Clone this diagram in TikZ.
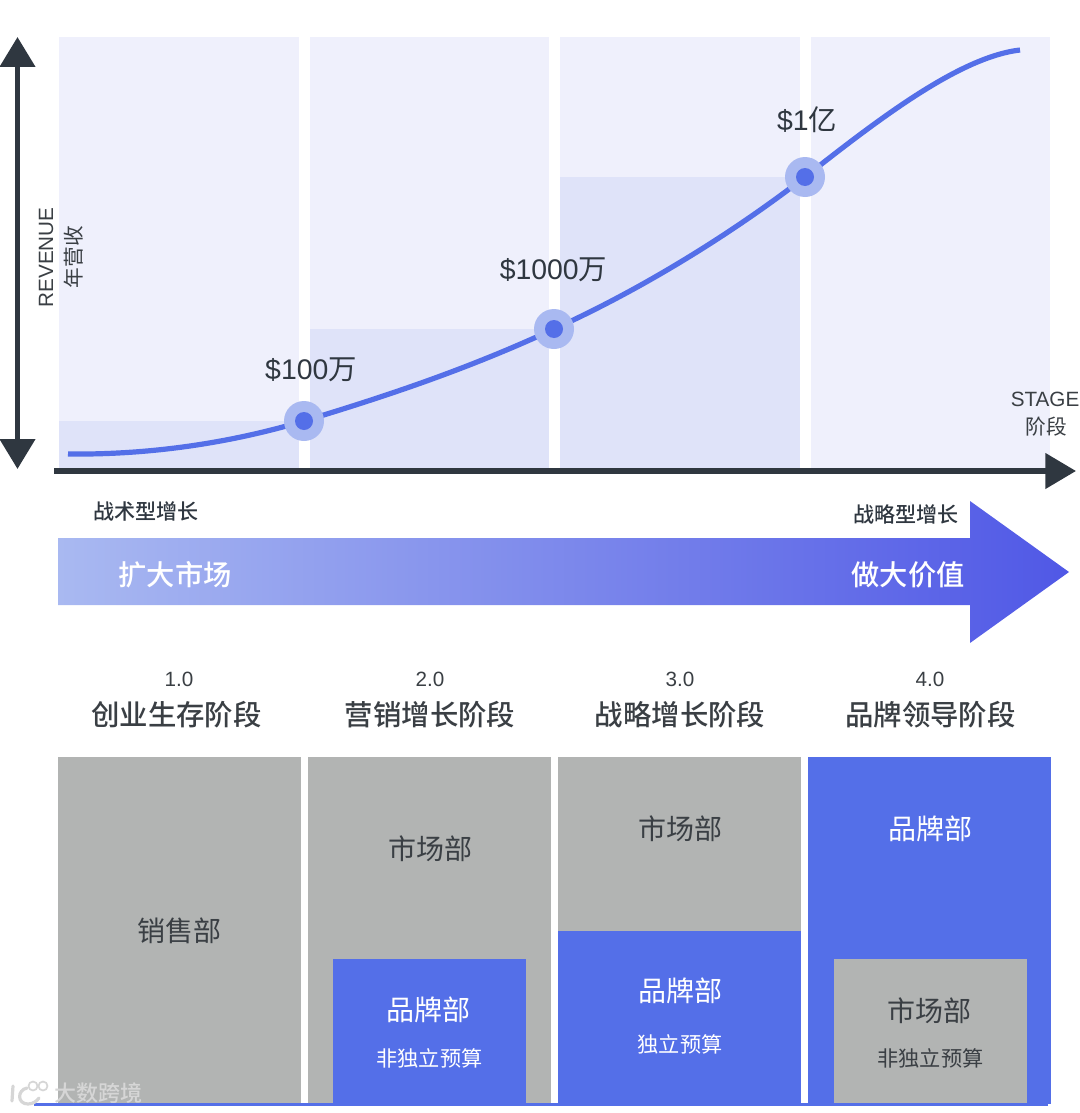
\documentclass[tikz,border=0pt]{standalone}
\usepackage{fontspec}
\setmainfont{Noto Sans CJK SC}
\newfontfamily\medf{Noto Sans CJK SC Medium}
\newfontfamily\latinf{Liberation Sans}
\usetikzlibrary{arrows.meta}
\definecolor{panel}{HTML}{EFF0FC}
\definecolor{inner}{HTML}{DFE3F9}
\definecolor{ink}{HTML}{2F3740}
\definecolor{blu}{HTML}{546FE8}
\definecolor{halo}{HTML}{A9B9F1}
\definecolor{gry}{HTML}{B2B4B3}
\definecolor{txt}{HTML}{3A3F44}
\definecolor{arrowend}{HTML}{5058E6}
\definecolor{wmark}{HTML}{D6D6D6}
\tikzset{
  x=0.75pt,y=-0.75pt,
  panelbox/.style={fill=panel,draw=none},
  innerbox/.style={fill=inner,draw=none},
  graybox/.style={fill=gry,draw=none},
  bluebox/.style={fill=blu,draw=none},
  lab/.style={inner sep=0pt,text=#1,font=\fontsize{21}{23}\selectfont},
  lab/.default=txt,
  sublab/.style={inner sep=0pt,text=#1,font=\fontsize{15.9}{17}\selectfont},
  sublab/.default=txt,
  money/.style={inner sep=0pt,text=ink,font=\fontsize{21.3}{23}\selectfont},
  small/.style={inner sep=0pt,text=ink,font=\medf\fontsize{15.8}{17}\selectfont},
  head/.style={inner sep=0pt,text=txt,font=\medf\fontsize{21.3}{23}\selectfont},
  num/.style={inner sep=0pt,text=txt,font=\latinf\fontsize{15.5}{17}\selectfont},
  whitehead/.style={inner sep=0pt,text=white,font=\medf\fontsize{21.2}{23}\selectfont},
  axis/.style={draw=ink,line width=4.1pt},
  curve/.style={draw=blu,line width=3.9pt},
  logo/.style={draw=wmark,line cap=round},
}
\begin{document}
\begin{tikzpicture}
\useasboundingbox (0,0) rectangle (1080,1113);
% panels
\fill[panelbox] (59,37) rectangle (299,468);
\fill[panelbox] (310,37) rectangle (549,468);
\fill[panelbox] (560,37) rectangle (800,468);
\fill[panelbox] (811,37) rectangle (1050,468);
\fill[innerbox] (59,421) rectangle (299,468);
\fill[innerbox] (310,329) rectangle (549,468);
\fill[innerbox] (560,177) rectangle (800,468);
% curve
\draw[curve] (68,454) .. controls (150,455) and (230,443) .. (304,421)
  .. controls (390,395) and (470,368) .. (554,329)
  .. controls (640,290) and (730,235) .. (805,177)
  .. controls (880,118) and (960,57) .. (1020,50);
% points
\node[circle,fill=halo,minimum size=30pt,inner sep=0pt] (p1h) at (304,421) {};
\node[circle,fill=blu,minimum size=13.5pt,inner sep=0pt] (p1) at (304,421) {};
\node[circle,fill=halo,minimum size=30pt,inner sep=0pt] (p2h) at (554,329) {};
\node[circle,fill=blu,minimum size=13.5pt,inner sep=0pt] (p2) at (554,329) {};
\node[circle,fill=halo,minimum size=30pt,inner sep=0pt] (p3h) at (805,177) {};
\node[circle,fill=blu,minimum size=13.5pt,inner sep=0pt] (p3) at (805,177) {};
\node[money] (m1) at (311,370) {{\latinf\$100}万};
\node[money] (m2) at (553.5,270) {{\latinf\$1000}万};
\node[money] (m3) at (807,120) {{\latinf\$1}亿};
% axes
\coordinate (ytop) at (17.5,37);
\coordinate (ybot) at (17.5,469);
\coordinate (xl) at (54,471);
\coordinate (xr) at (1076,471);
\draw[axis,{Triangle[length=22.5pt,width=26pt]}-{Triangle[length=22.5pt,width=26pt]}] (ytop) -- (ybot);
\draw[axis,-{Triangle[length=23pt,width=26pt]}] (xl) -- (xr);
\node[inner sep=0pt,rotate=90,text=txt,font=\latinf\fontsize{15.5}{17}\selectfont] (rev) at (46,257.5) {REVENUE};
\node[inner sep=0pt,rotate=90,text=txt,font=\fontsize{15.5}{17}\selectfont] (rev2) at (74,257) {年营收};
\node[inner sep=0pt,text=txt,font=\latinf\fontsize{15.5}{17}\selectfont] (st) at (1045,399) {STAGE};
\node[inner sep=0pt,text=txt,font=\fontsize{15.5}{17}\selectfont] (st2) at (1046,427) {阶段};
% big arrow
\shade[left color=halo,right color=arrowend,shading angle=90,left color=halo,right color=arrowend]
  (58,538) -- (970,538) -- (970,501) -- (1069,572) -- (970,643) -- (970,605) -- (58,605) -- cycle;
\node[small] (t1) at (146,511) {战术型增长};
\node[small] (t2) at (906,514) {战略型增长};
\node[whitehead] (a1) at (175,575) {扩大市场};
\node[whitehead] (a2) at (908,575) {做大价值};
% headings
\node[num] (n1) at (179,679) {1.0};
\node[num] (n2) at (430,679) {2.0};
\node[num] (n3) at (680,679) {3.0};
\node[num] (n4) at (930,679) {4.0};
\node[head] (h1) at (176.5,715) {创业生存阶段};
\node[head] (h2) at (430,715) {营销增长阶段};
\node[head] (h3) at (680,715) {战略增长阶段};
\node[head] (h4) at (930.5,715) {品牌领导阶段};
% blocks
\fill[graybox] (58,757) rectangle (301,1104);
\fill[graybox] (308,757) rectangle (551,1104);
\fill[graybox] (558,757) rectangle (801,931);
\fill[bluebox] (558,931) rectangle (801,1104);
\fill[bluebox] (808,757) rectangle (1051,1104);
\fill[bluebox] (333,959) rectangle (526,1104);
\fill[graybox] (834,959) rectangle (1027,1104);
\node[lab] (b1) at (179,931) {销售部};
\node[lab] (b2) at (430,848.5) {市场部};
\node[lab=white] (b3) at (428,1010) {品牌部};
\node[sublab=white] (b4) at (429.5,1058) {非独立预算};
\node[lab] (b5) at (680,829) {市场部};
\node[lab=white] (b6) at (680,991) {品牌部};
\node[sublab=white] (b7) at (680,1044.5) {独立预算};
\node[lab=white] (b8) at (930,829) {品牌部};
\node[lab] (b9) at (929,1011) {市场部};
\node[sublab] (b10) at (930.5,1058) {非独立预算};
\coordinate (bl) at (34,1104.5);
\coordinate (br) at (1048,1104.5);
\draw[draw=blu,line width=1.6pt] (bl) -- (br);
% watermark
\node[inner sep=0pt,text=wmark,font=\medf\fontsize{16.5}{18}\selectfont] (wm) at (98,1093) {大数跨境};
\draw[logo,line width=2.4pt] (13,1086) -- (12,1101);
\draw[logo,line width=2.4pt] (27,1088) .. controls (17,1090) and (17,1104) .. (28,1104) .. controls (33,1104) and (37,1101) .. (39,1098);
\draw[logo,line width=1.3pt] (33,1086) circle (4.5);
\draw[logo,line width=1.3pt] (43,1086) circle (4.5);
\end{tikzpicture}
\end{document}
